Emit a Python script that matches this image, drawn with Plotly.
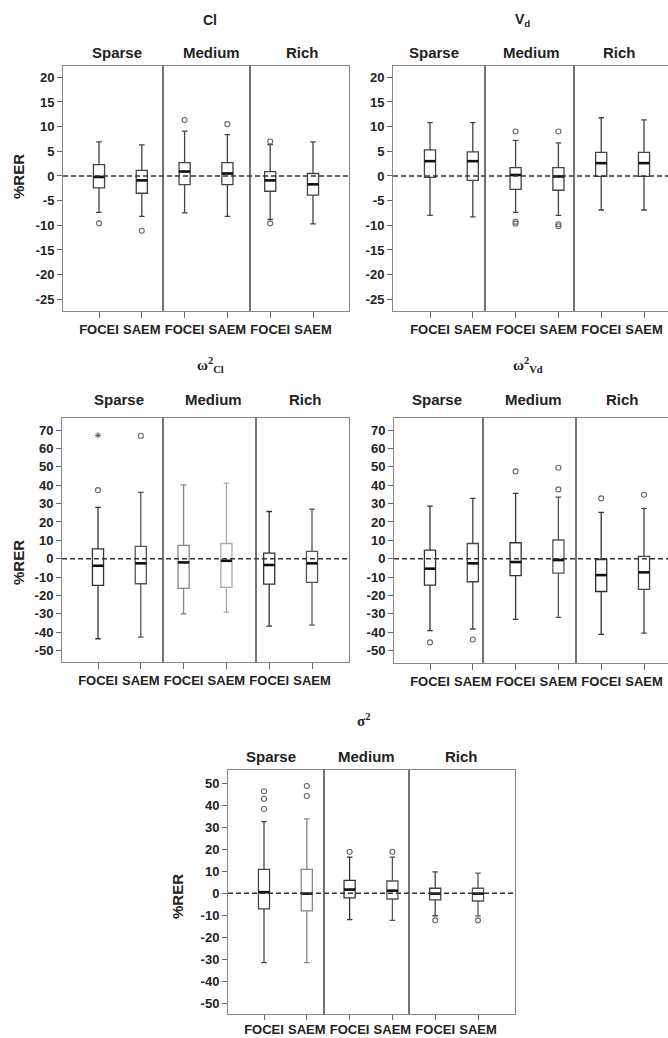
import plotly.graph_objects as go

# ---------------- data ----------------
groups = ["Sparse", "Medium", "Rich"]
methods = ["FOCEI", "SAEM", "FOCEI", "SAEM", "FOCEI", "SAEM"]

# Cl
cl_hi = [6.9, 6.3, 9.1, 8.4, 6.35, 6.9]
cl_q3 = [2.3, 1.15, 2.7, 2.7, 0.9, 0.5]
cl_med = [-0.2, -0.9, 0.9, 0.5, -0.9, -1.7]
cl_q1 = [-2.4, -3.5, -1.75, -1.75, -3.1, -3.9]
cl_lo = [-7.4, -8.2, -7.5, -8.2, -8.8, -9.7]
cl_out = [[-9.6], [-11.1], [11.35], [10.5], [7.0, -9.6], []]

# Vd
vd_hi = [10.8, 10.8, 7.2, 6.7, 11.8, 11.35]
vd_q3 = [5.3, 4.9, 1.7, 1.7, 4.8, 4.8]
vd_med = [3.0, 3.0, 0.2, -0.1, 2.6, 2.6]
vd_q1 = [-0.3, -0.9, -2.7, -2.9, -0.1, -0.1]
vd_lo = [-8.0, -8.3, -7.4, -8.0, -6.9, -6.9]
vd_out = [[], [], [9.0, -9.3, -9.7], [9.0, -9.8, -10.2], [], []]

# omega^2 Cl
wcl_hi = [27.9, 36.1, 40.2, 41.1, 25.7, 27.0]
wcl_q3 = [5.4, 6.7, 7.3, 8.3, 3.1, 4.0]
wcl_med = [-3.8, -2.5, -2.0, -1.1, -3.4, -2.5]
wcl_q1 = [-14.5, -13.6, -16.1, -15.6, -13.8, -12.9]
wcl_lo = [-43.5, -42.6, -29.9, -29.0, -36.6, -36.1]
wcl_out = [[37.3], [66.9], [], [], [], []]
wcl_extreme = [[67.1], [], [], [], [], []]

# omega^2 Vd
wvd_hi = [28.6, 32.8, 35.5, 33.5, 25.2, 27.4]
wvd_q3 = [4.7, 8.3, 8.7, 10.2, -0.4, 1.3]
wvd_med = [-5.4, -2.5, -1.8, -0.7, -8.9, -7.4]
wvd_q1 = [-14.3, -12.5, -9.2, -7.8, -17.8, -16.7]
wvd_lo = [-39.1, -38.2, -33.0, -31.9, -41.1, -40.4]
wvd_out = [[-45.5], [-43.9], [47.5], [49.5, 37.7], [32.8], [34.8]]

# sigma^2
s2_hi = [32.6, 33.8, 16.4, 16.4, 9.7, 9.2]
s2_q3 = [10.9, 10.9, 5.9, 5.6, 2.3, 2.3]
s2_med = [0.5, -0.15, 1.7, 1.2, -0.15, -0.15]
s2_q1 = [-7.1, -8.0, -2.1, -2.6, -3.0, -3.5]
s2_lo = [-31.5, -31.5, -12.0, -12.3, -10.2, -10.3]
s2_out = [[46.4, 43.0, 38.3], [48.8, 44.2], [18.9], [18.9], [-12.3], [-12.3]]

ticks_small = [20, 15, 10, 5, 0, -5, -10, -15, -20, -25]
ticks_omega = [70, 60, 50, 40, 30, 20, 10, 0, -10, -20, -30, -40, -50]
ticks_sigma = [50, 40, 30, 20, 10, 0, -10, -20, -30, -40, -50]

# ---------------- layout helpers ----------------
FW, FH = 668, 1038
SP = 42.8  # px per category


def fx(x):
    return x / FW


def fy(y):
    return 1 - y / FH


panels = [
    dict(title="Cl", tx=210, ty=20, left=63, right=349, top=66, bottom=311, c0=99,
         ya=20, pa=77.3, yb=-25, pb=299.3, ticks=ticks_small,
         data=(cl_lo, cl_q1, cl_med, cl_q3, cl_hi, cl_out, None),
         divs=[163, 250], glab=[(117, 52), (211, 52), (302, 52)], ytitle=(18, 177),
         rightline=True, colors=["#444"] * 6, tl=6, so=0),
    dict(title="V<sub>d</sub>", tx=522, ty=20, left=393, right=668, top=66, bottom=311, c0=430,
         ya=20, pa=77.3, yb=-25, pb=299.3, ticks=ticks_small,
         data=(vd_lo, vd_q1, vd_med, vd_q3, vd_hi, vd_out, None),
         divs=[485, 574], glab=[(434, 52), (531, 52), (619, 52)], ytitle=None,
         rightline=False, colors=["#444"] * 6, tl=6, so=0),
    dict(title="ω<sup>2</sup><sub>Cl</sub>", tx=210, ty=365, left=62, right=349, top=418, bottom=662, c0=98,
         ya=70, pa=430, yb=-50, pb=650.7, ticks=ticks_omega,
         data=(wcl_lo, wcl_q1, wcl_med, wcl_q3, wcl_hi, wcl_out, wcl_extreme),
         divs=[163, 256], glab=[(119, 399), (213, 399), (305, 399)], ytitle=(18, 563),
         rightline=True, colors=["#333", "#555", "#888", "#aaa", "#333", "#555"], tl=6, so=0),
    dict(title="ω<sup>2</sup><sub>Vd</sub>", tx=528, ty=365, left=394, right=668, top=418, bottom=663, c0=430,
         ya=70, pa=430, yb=-50, pb=650.7, ticks=ticks_omega,
         data=(wvd_lo, wvd_q1, wvd_med, wvd_q3, wvd_hi, wvd_out, None),
         divs=[483, 576], glab=[(437, 400), (533, 400), (622, 400)], ytitle=None,
         rightline=False, colors=["#333", "#444", "#333", "#555", "#333", "#444"], tl=6, so=0),
    dict(title="σ<sup>2</sup>", tx=363, ty=720, left=228, right=515, top=770, bottom=1014, c0=264,
         ya=50, pa=783.3, yb=-50, pb=1003.3, ticks=ticks_sigma,
         data=(s2_lo, s2_q1, s2_med, s2_q3, s2_hi, s2_out, None),
         divs=[324, 409], glab=[(271, 756), (366, 756), (462, 756)], ytitle=(177, 897),
         rightline=True, colors=["#444", "#888", "#333", "#555", "#444", "#555"], tl=5, so=-2),
]

SANS = "Liberation Sans, Arial, sans-serif"
SERIF = "Liberation Serif, Times New Roman, serif"
BOXW = 0.26

fig = go.Figure()
layout = dict(width=FW, height=FH, margin=dict(l=0, r=0, t=0, b=0), showlegend=False,
              plot_bgcolor="white", paper_bgcolor="white")
shapes, annotations = [], []

positions = list(range(6))

for i, p in enumerate(panels):
    n = "" if i == 0 else str(i + 1)
    xa, ya_ = "x" + n, "y" + n
    lo, q1, med, q3, hi, out, ext = p["data"]
    for k in positions:
        fig.add_trace(go.Box(
            x=[k], q1=[q1[k]], median=[med[k]], q3=[q3[k]],
            lowerfence=[lo[k]], upperfence=[hi[k]],
            width=BOXW, whiskerwidth=0.5, boxpoints=False,
            line=dict(color=p["colors"][k], width=1.3), fillcolor="white",
            xaxis=xa, yaxis=ya_, hoverinfo="skip"))
    # thick medians
    mx, my = [], []
    for k in positions:
        mx += [k - BOXW / 2, k + BOXW / 2, None]
        my += [med[k], med[k], None]
    fig.add_trace(go.Scatter(x=mx, y=my, mode="lines", line=dict(color="#111", width=2.6),
                             xaxis=xa, yaxis=ya_, hoverinfo="skip"))
    ox, oy = [], []
    for k in positions:
        for v in out[k]:
            ox.append(k)
            oy.append(v)
    fig.add_trace(go.Scatter(x=ox, y=oy, mode="markers",
                             marker=dict(symbol="circle-open", size=5, color="#666",
                                         line=dict(width=1.1, color="#666")),
                             xaxis=xa, yaxis=ya_, hoverinfo="skip"))
    if ext:
        ex, ey = [], []
        for k in positions:
            for v in ext[k]:
                ex.append(k)
                ey.append(v)
        fig.add_trace(go.Scatter(x=ex, y=ey, mode="markers",
                                 marker=dict(symbol="asterisk-open", size=5, color="#555",
                                             line=dict(width=1, color="#555")),
                                 xaxis=xa, yaxis=ya_, hoverinfo="skip"))

    scale = (p["pb"] - p["pa"]) / (p["ya"] - p["yb"])
    ytop = p["ya"] + (p["pa"] - p["top"]) / scale
    ybot = p["yb"] - (p["bottom"] - p["pb"]) / scale
    xr = [(p["left"] - p["c0"]) / SP, (p["right"] - p["c0"]) / SP]

    layout["xaxis" + n] = dict(
        domain=[fx(p["left"]), min(1.0, fx(p["right"]))], range=xr, anchor=ya_,
        tickmode="array", tickvals=positions, ticktext=methods,
        ticks="outside", ticklen=p["tl"], tickcolor="#666", tickwidth=1,
        ticklabelstandoff=p["so"],
        showline=True, linecolor="#888", linewidth=1, mirror=True,
        showgrid=False, zeroline=False, automargin=False,
        tickfont=dict(family=SANS, size=13, color="#222", weight="bold"))
    layout["yaxis" + n] = dict(
        domain=[fy(p["bottom"]), fy(p["top"])], range=[ybot, ytop], anchor=xa,
        tickmode="array", tickvals=p["ticks"], ticktext=[str(t) for t in p["ticks"]],
        ticks="outside", ticklen=5, tickcolor="#666", tickwidth=1,
        showline=True, linecolor="#888", linewidth=1, mirror=p["rightline"],
        showgrid=False, zeroline=False, automargin=False,
        tickfont=dict(family=SANS, size=13, color="#222", weight="bold"))

    # zero reference line
    shapes.append(dict(type="line", xref=xa + " domain", yref=ya_, x0=0, x1=1, y0=0, y1=0,
                       line=dict(color="#333", width=1.4, dash="5px,3px"), layer="above"))
    # facet dividers
    for d in p["divs"]:
        shapes.append(dict(type="line", xref="paper", yref="paper", x0=fx(d), x1=fx(d),
                           y0=fy(p["bottom"]), y1=fy(p["top"]),
                           line=dict(color="#444", width=1.5)))
    # titles
    fam = SANS if i < 2 else SERIF
    annotations.append(dict(text=p["title"], x=fx(p["tx"]), y=fy(p["ty"]), xref="paper", yref="paper",
                            showarrow=False, xanchor="center", yanchor="middle",
                            font=dict(family=fam, size=14 if i < 2 else 15, color="#222", weight="bold")))
    for g, (gx, gy) in zip(groups, p["glab"]):
        annotations.append(dict(text=g, x=fx(gx), y=fy(gy), xref="paper", yref="paper",
                                showarrow=False, xanchor="center", yanchor="middle",
                                font=dict(family=SANS, size=15, color="#222", weight="bold")))
    if p["ytitle"]:
        annotations.append(dict(text="%RER", x=fx(p["ytitle"][0]), y=fy(p["ytitle"][1]),
                                xref="paper", yref="paper", showarrow=False, textangle=-90,
                                xanchor="center", yanchor="middle",
                                font=dict(family=SANS, size=15, color="#222", weight="bold")))

layout["shapes"] = shapes
layout["annotations"] = annotations
fig.update_layout(**layout)

page_css = ("document.documentElement.style.margin='0';"
            "document.body.style.margin='0';"
            "document.documentElement.style.overflow='hidden';"
            "document.body.style.overflow='hidden';")
fig.write_html("out.html", post_script=page_css, config={"displayModeBar": False})
